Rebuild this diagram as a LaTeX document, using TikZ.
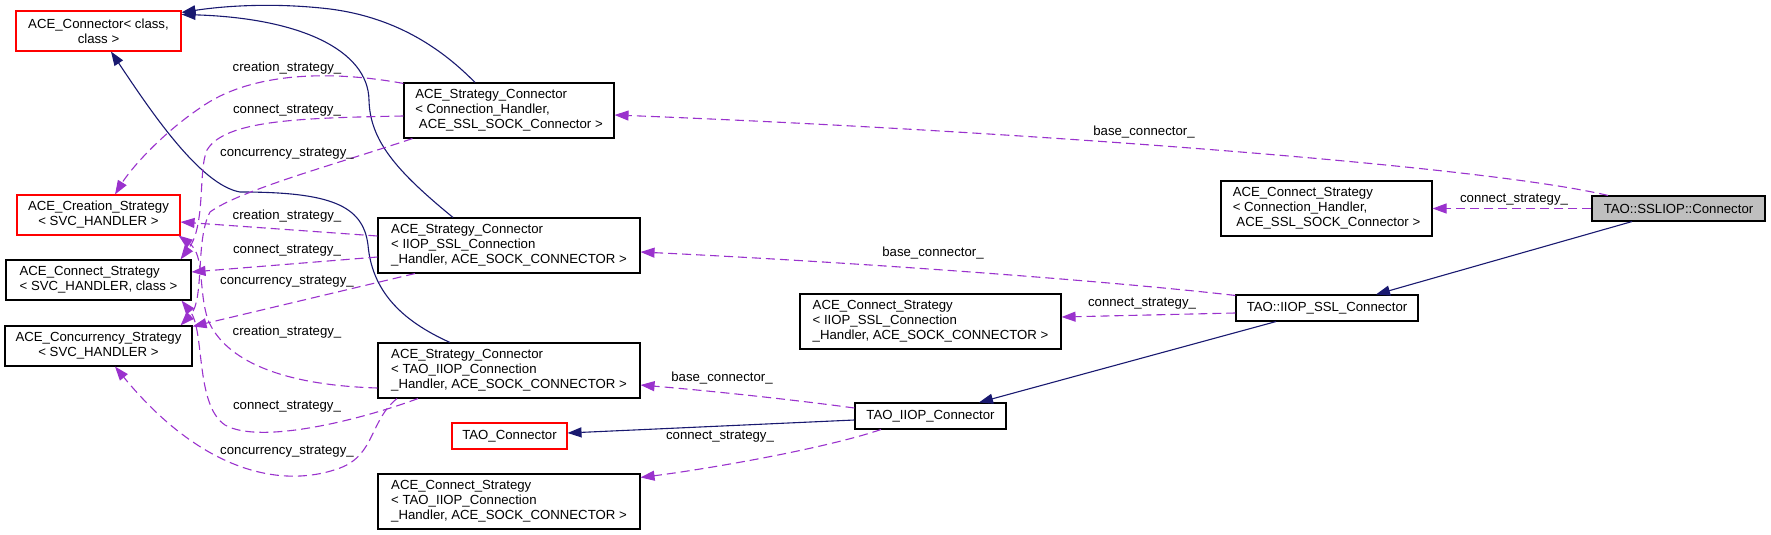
\documentclass[tikz,border=0pt]{standalone}
\usepackage{fontspec}
\setmainfont{Liberation Sans}
\usetikzlibrary{arrows.meta,calc}
\definecolor{navy}{HTML}{191970}
\definecolor{orchid}{HTML}{9A32CD}
\definecolor{grayfill}{HTML}{BFBFBF}
\newcommand{\dfont}{\fontsize{13.2}{15}\selectfont}
\begin{document}
\begin{tikzpicture}[x=1pt,y=-1pt,
 cls/.style={draw=black, line width=1.1pt, font=\dfont, inner sep=0pt, align=left},
 clsc/.style={cls, align=center},
 redcls/.style={clsc, draw=red},
 inh/.style={draw=navy, line width=1.1pt, -{Triangle[length=14pt,width=10pt]}},
 use/.style={draw=orchid, line width=1.1pt, dash pattern=on 9pt off 5pt, -{Triangle[length=14pt,width=10pt]}},
 elabel/.style={font=\dfont, inner sep=0pt}
]
\useasboundingbox (0,0) rectangle (1771,535);

% nodes
\node[redcls, minimum width=165, minimum height=40] (acon) at (98.5,31) {ACE\_Connector< class,\\class >};
\node[redcls, minimum width=163, minimum height=40] (crea) at (98.5,215) {ACE\_Creation\_Strategy\\< SVC\_HANDLER >};
\node[cls, minimum width=185, minimum height=40] (cons) at (98.5,280) {ACE\_Connect\_Strategy\\< SVC\_HANDLER, class >};
\node[clsc, minimum width=187, minimum height=40] (conc) at (98.5,346) {ACE\_Concurrency\_Strategy\\< SVC\_HANDLER >};
\node[cls, minimum width=210, minimum height=55] (sslsc) at (509,110.5) {ACE\_Strategy\_Connector\\< Connection\_Handler,\\\hspace*{3.7pt}ACE\_SSL\_SOCK\_Connector >};
\node[cls, minimum width=262, minimum height=55] (iiopsslsc) at (509,245.5) {ACE\_Strategy\_Connector\\< IIOP\_SSL\_Connection\\\_Handler, ACE\_SOCK\_CONNECTOR >};
\node[cls, minimum width=262, minimum height=55] (taoiiopsc) at (509,370.5) {ACE\_Strategy\_Connector\\< TAO\_IIOP\_Connection\\\_Handler, ACE\_SOCK\_CONNECTOR >};
\node[redcls, minimum width=115, minimum height=26] (taoconn) at (509.5,436) {TAO\_Connector};
\node[cls, minimum width=262, minimum height=55] (taoiiopcs) at (509,501.5) {ACE\_Connect\_Strategy\\< TAO\_IIOP\_Connection\\\_Handler, ACE\_SOCK\_CONNECTOR >};
\node[cls, minimum width=261, minimum height=55] (iiopsslcs) at (930.5,321.5) {ACE\_Connect\_Strategy\\< IIOP\_SSL\_Connection\\\_Handler, ACE\_SOCK\_CONNECTOR >};
\node[clsc, minimum width=151, minimum height=26] (taoiiop) at (930.5,416) {TAO\_IIOP\_Connector};
\node[cls, minimum width=211, minimum height=55] (sslcs) at (1326.5,208.5) {ACE\_Connect\_Strategy\\< Connection\_Handler,\\\hspace*{3.7pt}ACE\_SSL\_SOCK\_Connector >};
\node[clsc, minimum width=182, minimum height=26] (iiopssl) at (1327,308) {TAO::IIOP\_SSL\_Connector};
\node[clsc, fill=grayfill, minimum width=173, minimum height=25] (sslconn) at (1678.5,208.5) {TAO::SSLIOP::Connector};

% inheritance
\draw[inh] ([xshift=-34]sslsc.north) .. controls (445,52) and (400,18) .. (330,9) .. controls (280,3) and (230,5) .. ([yshift=-2]acon.north east);
\draw[inh] ([xshift=-56]iiopsslsc.north) .. controls (395,170) and (370,140) .. (369,100) .. controls (368,50) and (300,18) .. ([yshift=-4]acon.north east);
\draw[inh] ([xshift=-59]taoiiopsc.north) .. controls (400,320) and (372,290) .. (368,245) .. controls (363,205) and (330,192) .. (240,192) .. controls (200,185) and (150,110) .. ([xshift=12.5]acon.south);
\draw[inh] ([xshift=-46.5]sslconn.south) -- ([xshift=49]iiopssl.north);
\draw[inh] ([xshift=-51]iiopssl.south) -- ([xshift=48.5]taoiiop.north);
\draw[inh] ([yshift=-4]taoiiop.west) -- ([yshift=3]taoconn.east);

% usage, right part
\draw[use] ([xshift=-70.5]sslconn.north) .. controls (1480,165) and (1000,130) .. ([yshift=-4.5]sslsc.east);
\draw[use] (sslconn.west) -- (sslcs.east);
\draw[use] ([yshift=-1]iiopssl.north west) .. controls (1100,280) and (850,262) .. ([yshift=-6.5]iiopsslsc.east);
\draw[use] ([yshift=-5]iiopssl.west) -- ([yshift=4.5]iiopsslcs.east);
\draw[use] ([yshift=8]taoiiop.west) .. controls (780,398) and (700,390) .. ([yshift=-14.5]taoiiopsc.east);
\draw[use] ([xshift=-49.5]taoiiop.south) .. controls (820,450) and (700,470) .. ([yshift=-4]taoiiopcs.north east);

% usage, left part
\draw[use] ([yshift=-1]sslsc.north west) .. controls (330,70) and (250,72) .. (200,108) .. controls (160,135) and (130,170) .. ([xshift=16.5]crea.north);
\draw[use] ([yshift=-5.5]sslsc.west) .. controls (300,118) and (225,120) .. (207,150) .. controls (198,170) and (206,225) .. ([xshift=-11]cons.north east);
\draw[use] ([xshift=9]sslsc.south west) .. controls (340,163) and (240,190) .. (210,212) .. controls (195,240) and (205,300) .. ([xshift=-12]conc.north east);
\draw[use] ([yshift=9.5]iiopsslsc.west) -- ([yshift=-7]crea.east);
\draw[use] ([yshift=-11.5]iiopsslsc.west) -- ([yshift=8]cons.east);
\draw[use] ([xshift=-94]iiopsslsc.south) -- ([yshift=-1]conc.north east);
\draw[use] ([yshift=-17.5]taoiiopsc.west) .. controls (280,385) and (225,360) .. (208,320) .. controls (198,290) and (205,255) .. ([xshift=-2]crea.south east);
\draw[use] ([xshift=-91]taoiiopsc.south) .. controls (360,420) and (260,445) .. (225,425) .. controls (195,405) and (205,330) .. ([xshift=-10]cons.south east);
\draw[use] ([xshift=-112]taoiiopsc.south) .. controls (370,420) and (375,455) .. (340,468) .. controls (280,490) and (200,470) .. ([xshift=16.5]conc.south);

% labels
\node[elabel] (l1) at (287,68) {creation\_strategy\_};
\node[elabel] (l2) at (287,111) {connect\_strategy\_};
\node[elabel] (l3) at (287,154) {concurrency\_strategy\_};
\node[elabel] (l4) at (287,216) {creation\_strategy\_};
\node[elabel] (l5) at (287,251) {connect\_strategy\_};
\node[elabel] (l6) at (287,282) {concurrency\_strategy\_};
\node[elabel] (l7) at (287,332) {creation\_strategy\_};
\node[elabel] (l8) at (287,407) {connect\_strategy\_};
\node[elabel] (l9) at (287,452) {concurrency\_strategy\_};
\node[elabel] (l10) at (1144,132) {base\_connector\_};
\node[elabel] (l11) at (1514,200) {connect\_strategy\_};
\node[elabel] (l12) at (933,253) {base\_connector\_};
\node[elabel] (l13) at (1142,304) {connect\_strategy\_};
\node[elabel] (l14) at (722,378) {base\_connector\_};
\node[elabel] (l15) at (720,437) {connect\_strategy\_};
\end{tikzpicture}
\end{document}
